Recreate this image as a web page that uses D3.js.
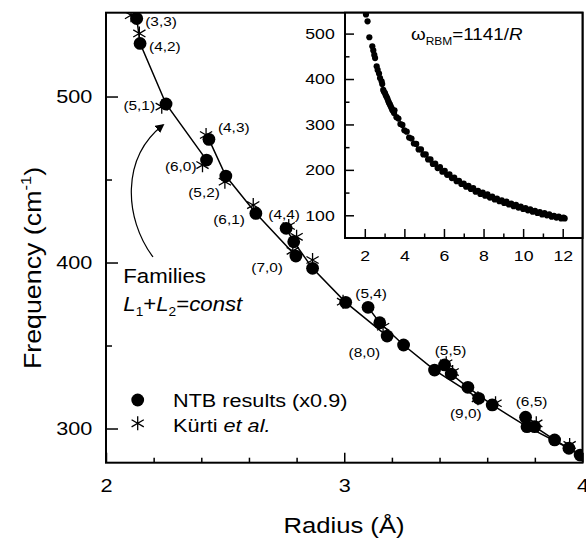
<!DOCTYPE html>
<html>
<head>
<meta charset="utf-8">
<script src="https://cdn.jsdelivr.net/npm/d3@7"></script>
<style>
  html, body { margin: 0; padding: 0; background: #fff; }
  svg { display: block; }
  text { font-family: "Liberation Sans", Arial, Helvetica, sans-serif; fill: #000; }
</style>
</head>
<body>
<svg id="chart" width="586" height="542"></svg>
<script>
// ---- NTB results (x0.9): tube index, radius (Å), RBM frequency (cm^-1)
const tubeNames = ["(3,3)","(4,2)","(5,1)","(6,0)","(4,3)","(5,2)","(6,1)","(7,0)",
  "(4,4)","(5,3)","(6,2)","(7,1)","(8,0)","(5,4)","(6,3)","(7,2)","(8,1)","(9,0)",
  "(5,5)","(6,4)","(7,3)","(8,2)","(9,1)","(10,0)","(6,5)","(7,4)","(8,3)","(9,2)"];
const ntbRadius = [2.129,2.143,2.252,2.422,2.432,2.503,2.629,2.797,
  2.756,2.788,2.867,3.006,3.180,3.100,3.149,3.249,3.379,3.564,
  3.421,3.449,3.519,3.621,3.767,3.943,3.761,3.799,3.883,3.990];
const ntbFreq = [547.0,532.0,495.5,461.7,474.2,452.1,429.6,403.9,
  420.6,412.5,396.5,376.0,355.7,373.0,363.7,350.3,335.2,318.2,
  338.3,332.8,324.8,314.2,301.1,288.1,306.8,301.1,293.1,284.0];

// families L1+L2 = const, joined by lines
const families = [
  ["(3,3)","(4,2)","(5,1)","(6,0)"],
  ["(4,3)","(5,2)","(6,1)","(7,0)"],
  ["(4,4)","(5,3)","(6,2)","(7,1)","(8,0)"],
  ["(5,4)","(6,3)","(7,2)","(8,1)","(9,0)"],
  ["(5,5)","(6,4)","(7,3)","(8,2)","(9,1)","(10,0)"],
  ["(6,5)","(7,4)","(8,3)","(9,2)"]
];

// ---- Kürti et al.
const kurtiRadius = [2.105,2.140,2.234,2.405,2.420,2.499,2.618,2.767,2.800,2.784,
  2.867,2.995,3.163,3.428,3.455,3.561,3.635,3.806,3.946];
const kurtiFreq = [549.0,538.0,493.9,458.7,476.8,448.7,434.6,422.0,415.5,407.0,
  401.5,376.4,361.3,339.3,334.0,318.2,315.2,303.1,290.1];

// tubes carrying an index label
const labeledTubes = ["(3,3)","(4,2)","(5,1)","(4,3)","(6,0)","(5,2)","(6,1)","(4,4)",
  "(7,0)","(5,4)","(8,0)","(5,5)","(9,0)","(6,5)"];

// ---- axis ticks
const xTicks = [2, 3, 4];
const xMinorTicks = [2.2, 2.4, 2.6, 2.8, 3.2, 3.4, 3.6, 3.8];
const yTicks = [300, 400, 500];
const yMinorTicks = [350, 450];

// ---- inset: all tubes, radius (Å) and frequency (cm^-1)
const insetRadius = [2.06,2.14,2.23,2.38,2.43,2.48,2.52,2.60,2.65,2.72,2.77,2.85,2.88,2.93,
  2.97,3.02,3.06,3.10,3.14,3.18,3.22,3.27,3.31,3.35,3.39,3.44,3.48,
  3.50,3.60,3.70,3.80,3.90,4.00,4.12,4.24,4.36,4.48,4.60,4.72,4.84,4.96,5.08,5.20,5.32,
  5.44,5.56,5.68,5.80,5.92,6.04,6.16,6.28,6.40,6.52,6.64,6.76,6.88,7.00,7.12,7.24,7.36,
  7.48,7.60,7.72,7.84,7.96,8.08,8.20,8.32,8.44,8.56,8.68,8.80,8.92,9.04,9.16,9.28,9.40,
  9.52,9.64,9.76,9.88,10.00,10.12,10.24,10.36,10.48,10.60,10.72,10.84,10.96,11.08,11.20,
  11.32,11.44,11.56,11.68,11.80,11.92,12.04,12.10];
const insetFreq = [542,527,492,472,463,453,446,428,420,412,402,395,389,376,
  372,369,364,361,357,352,348,344,340,336,332,329,325,
  331,316,313,301,299,287,284,271,269,258,257,245,245,234,234,223,223,
  213,214,204,206,196,198,189,190,182,183,175,176,169,170,163,165,158,
  160,152,154,147,150,143,146,139,141,135,137,131,133,127,130,124,126,
  120,123,117,119,114,116,111,113,108,110,105,107,102,105,100,
  102,97,99,95,97,93,95,93];
const insetXTicks = [2, 4, 6, 8, 10, 12];
const insetXMinor = [3, 5, 7, 9, 11];
const insetYTicks = [100, 200, 300, 400, 500];
const insetYMinor = [150, 250, 350, 450];

// ---------------------------------------------------------------
const svg = d3.select("#chart");
const SX = 1.14;               // horizontal glyph stretch of the lettering
const FONT = '"Liberation Sans", Arial, Helvetica, sans-serif';

const plot = { left: 106, right: 582.5, top: 12.7, bottom: 462.7 };
const x = d3.scaleLinear().domain([2, 4]).range([plot.left, plot.right]);
const y = d3.scaleLinear().domain([279.4, 550.5]).range([plot.bottom, plot.top]);

const ntb = tubeNames.map((n, i) => ({ name: n, r: ntbRadius[i], f: ntbFreq[i] }));
const byName = new Map(ntb.map(d => [d.name, d]));

const defs = svg.append("defs");
defs.append("clipPath").attr("id", "plotClip")
  .append("rect")
  .attr("x", plot.left).attr("y", plot.top)
  .attr("width", plot.right - plot.left).attr("height", plot.bottom - plot.top);

const dataLayer = svg.append("g").attr("clip-path", "url(#plotClip)");

// family lines
const line = d3.line().x(d => x(d.r)).y(d => y(d.f));
dataLayer.selectAll("path.family")
  .data(families.map(fam => fam.map(n => byName.get(n))))
  .join("path")
  .attr("class", "family")
  .attr("d", line)
  .attr("fill", "none").attr("stroke", "#000").attr("stroke-width", 1.5);

// NTB circles
dataLayer.selectAll("circle.ntb")
  .data(ntb)
  .join("circle")
  .attr("class", "ntb")
  .attr("cx", d => x(d.r)).attr("cy", d => y(d.f)).attr("r", 6.4)
  .attr("fill", "#000");

// Kürti asterisks
const star = d3.symbol().type(d3.symbolAsterisk).size(140);
dataLayer.selectAll("path.kurti")
  .data(kurtiRadius.map((r, i) => ({ r, f: kurtiFreq[i] })))
  .join("path")
  .attr("class", "kurti")
  .attr("transform", d => `translate(${x(d.r)},${y(d.f)})`)
  .attr("d", star)
  .attr("fill", "none").attr("stroke", "#000").attr("stroke-width", 1.3);

// text helper: places a stretched text element
function label(parent, px, py, size, anchor) {
  return parent.append("text")
    .attr("transform", `translate(${px},${py}) scale(${SX},1)`)
    .attr("font-size", size)
    .attr("text-anchor", anchor || "start");
}

// tube index labels (offset from their points)
const labelOffset = {
  "(3,3)": [8.5, 7, "start"], "(4,2)": [9, 8, "start"], "(5,1)": [-11, 6, "end"],
  "(4,3)": [9, -7, "start"], "(6,0)": [-10, 11, "end"], "(5,2)": [-6, 21, "end"],
  "(6,1)": [-11, 11, "end"], "(4,4)": [-2, -9, "middle"], "(7,0)": [-13, 16, "end"],
  "(5,4)": [3, -9, "middle"], "(8,0)": [-7, 21, "end"], "(5,5)": [6, -10, "middle"],
  "(9,0)": [3, 20, "end"], "(6,5)": [6, -11, "middle"]
};
const labelLayer = svg.append("g");
labeledTubes.forEach(n => {
  const d = byName.get(n), o = labelOffset[n];
  label(labelLayer, x(d.r) + o[0], y(d.f) + o[1], 13.5, o[2]).text(n);
});

// ---- main axes (ticks point inward)
function styleAxis(g) {
  g.select(".domain").remove();
  g.selectAll(".tick line").attr("stroke", "#000").attr("stroke-width", 1.5);
  g.selectAll("text").attr("font-family", FONT).attr("fill", "#000");
}
const xAxis = svg.append("g").attr("transform", `translate(0,${plot.bottom})`)
  .call(d3.axisBottom(x).tickValues(xTicks).tickFormat(d3.format("d"))
    .tickSizeInner(-10).tickSizeOuter(0).tickPadding(16));
styleAxis(xAxis);
xAxis.selectAll("text").attr("font-size", 19).attr("transform", `scale(${SX},1)`);
svg.append("g").attr("transform", `translate(0,${plot.bottom})`)
  .call(d3.axisBottom(x).tickValues(xMinorTicks).tickFormat("")
    .tickSizeInner(-5).tickSizeOuter(0)).call(styleAxis);

const yAxis = svg.append("g").attr("transform", `translate(${plot.left},0)`)
  .call(d3.axisLeft(y).tickValues(yTicks).tickFormat(d3.format("d"))
    .tickSizeInner(-12).tickSizeOuter(0).tickPadding(12));
styleAxis(yAxis);
yAxis.selectAll("text").attr("font-size", 19).attr("transform", `scale(${SX},1)`);
svg.append("g").attr("transform", `translate(${plot.left},0)`)
  .call(d3.axisLeft(y).tickValues(yMinorTicks).tickFormat("")
    .tickSizeInner(-6).tickSizeOuter(0)).call(styleAxis);

// frame
svg.append("rect")
  .attr("x", plot.left).attr("y", plot.top)
  .attr("width", plot.right - plot.left).attr("height", plot.bottom - plot.top)
  .attr("fill", "none").attr("stroke", "#000").attr("stroke-width", 2);

// axis titles
label(svg, 344, 533, 22.5, "middle").text("Radius (Å)");
const yTitle = svg.append("text")
  .attr("transform", `translate(41,268) rotate(-90) scale(${SX},1)`)
  .attr("font-size", 23.5).attr("text-anchor", "middle");
yTitle.append("tspan").text("Frequency (cm");
yTitle.append("tspan").attr("font-size", 14.5).attr("dy", -10).text("-1");
yTitle.append("tspan").attr("dy", 10).text(")");

// ---- legend
svg.append("circle").attr("cx", 137.7).attr("cy", 400).attr("r", 6.4).attr("fill", "#000");
label(svg, 173, 406.7, 19).text("NTB results (x0.9)");
svg.append("path").attr("transform", "translate(137.7,423.3)").attr("d", star())
  .attr("fill", "none").attr("stroke", "#000").attr("stroke-width", 1.3);
const kl = label(svg, 173, 431.7, 19);
kl.append("tspan").text("Kürti ");
kl.append("tspan").attr("font-style", "italic").text("et al.");

// ---- families annotation with curved arrow
label(svg, 123.3, 283.3, 19.5).text("Families");
const fam = label(svg, 123.3, 310.7, 19.5);
fam.append("tspan").attr("font-style", "italic").text("L");
fam.append("tspan").attr("font-size", 12).attr("dy", 5).text("1");
fam.append("tspan").attr("dy", -5).text("+");
fam.append("tspan").attr("font-style", "italic").text("L");
fam.append("tspan").attr("font-size", 12).attr("dy", 5).text("2");
fam.append("tspan").attr("dy", -5).text("=");
fam.append("tspan").attr("font-style", "italic").text("const");

defs.append("marker")
  .attr("id", "head").attr("viewBox", "0 0 10 10").attr("refX", 8).attr("refY", 5)
  .attr("markerWidth", 9).attr("markerHeight", 9).attr("markerUnits", "userSpaceOnUse")
  .attr("orient", "auto")
  .append("path").attr("d", "M0,0 L10,5 L0,10 Z").attr("fill", "#000");
svg.append("path")
  .attr("d", "M153,257 C 124,218 121,158 163,125")
  .attr("fill", "none").attr("stroke", "#000").attr("stroke-width", 1.2)
  .attr("marker-end", "url(#head)");

// ---- inset
const ins = { left: 345, right: 582.5, top: 12.7, bottom: 238 };
const ix = d3.scaleLinear().domain([1, 13]).range([ins.left, ins.right]);
const iy = d3.scaleLinear().domain([50, 546]).range([ins.bottom, ins.top]);

svg.append("rect")
  .attr("x", ins.left).attr("y", ins.top)
  .attr("width", ins.right - ins.left).attr("height", ins.bottom - ins.top)
  .attr("fill", "#fff").attr("stroke", "none");

defs.append("clipPath").attr("id", "insetClip")
  .append("rect")
  .attr("x", ins.left).attr("y", ins.top)
  .attr("width", ins.right - ins.left).attr("height", ins.bottom - ins.top);

svg.append("g").attr("clip-path", "url(#insetClip)")
  .selectAll("circle")
  .data(insetRadius.map((r, i) => ({ r, f: insetFreq[i] })))
  .join("circle")
  .attr("cx", d => ix(d.r)).attr("cy", d => iy(d.f)).attr("r", 3.1)
  .attr("fill", "#000");

const ixAxis = svg.append("g").attr("transform", `translate(0,${ins.bottom})`)
  .call(d3.axisBottom(ix).tickValues(insetXTicks).tickFormat(d3.format("d"))
    .tickSizeInner(-9).tickSizeOuter(0).tickPadding(12));
styleAxis(ixAxis);
ixAxis.selectAll("text").attr("font-size", 15.5).attr("transform", `scale(${SX},1)`);
svg.append("g").attr("transform", `translate(0,${ins.bottom})`)
  .call(d3.axisBottom(ix).tickValues(insetXMinor).tickFormat("")
    .tickSizeInner(-4.5).tickSizeOuter(0)).call(styleAxis);

const iyAxis = svg.append("g").attr("transform", `translate(${ins.left},0)`)
  .call(d3.axisLeft(iy).tickValues(insetYTicks).tickFormat(d3.format("d"))
    .tickSizeInner(-9).tickSizeOuter(0).tickPadding(9));
styleAxis(iyAxis);
iyAxis.selectAll("text").attr("font-size", 15.5).attr("transform", `scale(${SX},1)`);
svg.append("g").attr("transform", `translate(${ins.left},0)`)
  .call(d3.axisLeft(iy).tickValues(insetYMinor).tickFormat("")
    .tickSizeInner(-4.5).tickSizeOuter(0)).call(styleAxis);

svg.append("rect")
  .attr("x", ins.left).attr("y", ins.top)
  .attr("width", ins.right - ins.left).attr("height", ins.bottom - ins.top)
  .attr("fill", "none").attr("stroke", "#000").attr("stroke-width", 2);

const fit = label(svg, 411, 40, 16.5);
fit.append("tspan").text("ω");
fit.append("tspan").attr("font-size", 10.5).attr("dy", 5).text("RBM");
fit.append("tspan").attr("dy", -5).text("=1141/");
fit.append("tspan").attr("font-style", "italic").text("R");
</script>
</body>
</html>
